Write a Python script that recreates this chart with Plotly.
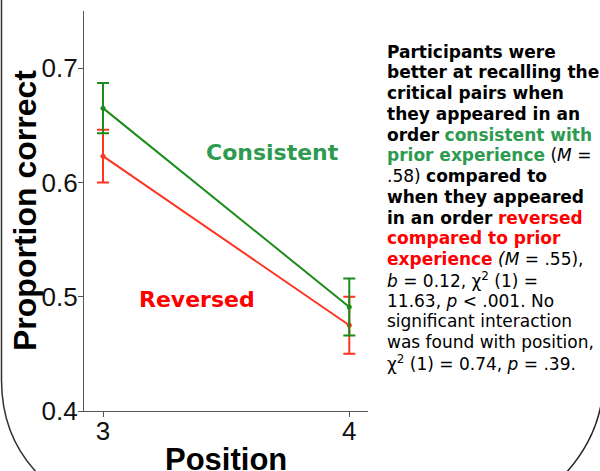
import plotly.graph_objects as go

# ---- data ----
positions = [3, 4]
consistent_mean = [0.665, 0.491]
consistent_err = [0.022, 0.025]
reversed_mean = [0.623, 0.475]
reversed_err = [0.023, 0.025]
y_ticks = [0.4, 0.5, 0.6, 0.7]
y_tick_labels = ["0.4", "0.5", "0.6", "0.7"]
x_ticks = [3, 4]

GREEN_LINE = "#1a8c1a"
RED_LINE = "#ff3322"
GREEN_TXT = "#2e9a50"
RED_TXT = "#ff0000"

W, H = 600, 471
L, R, T, B = 84, 232, 11, 60
PW, PH = W - L - R, H - T - B


def px(x):
    return (x - L) / PW


def py(y):
    return (H - B - y) / PH


fig = go.Figure()
fig.add_trace(go.Scatter(
    x=positions, y=reversed_mean, mode="lines+markers",
    line=dict(color=RED_LINE, width=2), marker=dict(size=5, color=RED_LINE),
    error_y=dict(type="data", array=reversed_err, color=RED_LINE, thickness=2, width=6),
    showlegend=False))
fig.add_trace(go.Scatter(
    x=positions, y=consistent_mean, mode="lines+markers",
    line=dict(color=GREEN_LINE, width=2), marker=dict(size=5, color=GREEN_LINE),
    error_y=dict(type="data", array=consistent_err, color=GREEN_LINE, thickness=2, width=6),
    showlegend=False))

ann = []
ann.append(dict(x=3.687, y=0.6266, xref="x", yref="y", text="<b>Consistent</b>",
                showarrow=False, font=dict(family="DejaVu Sans", size=22, color=GREEN_TXT)))
ann.append(dict(x=3.382, y=0.498, xref="x", yref="y", text="<b>Reversed</b>",
                showarrow=False, font=dict(family="DejaVu Sans", size=22, color=RED_TXT)))
# axis titles
ann.append(dict(x=px(25), y=py(211), xref="paper", yref="paper", text="<b>Proportion correct</b>",
                textangle=-90, showarrow=False, xanchor="center", yanchor="middle",
                font=dict(family="Liberation Sans", size=32, color="black")))
ann.append(dict(x=px(226), y=py(440), xref="paper", yref="paper", text="<b>Position</b>",
                xanchor="center", yanchor="top", showarrow=False,
                font=dict(family="Liberation Sans", size=31, color="black")))

g = lambda s: f"<span style='color:{GREEN_TXT}'><b>{s}</b></span>"
r = lambda s: f"<span style='color:{RED_TXT}'><b>{s}</b></span>"
lines = [
    "<b>Participants were</b>",
    "<b>better at recalling the</b>",
    "<b>critical pairs when</b>",
    "<b>they appeared in an</b>",
    "<b>order</b> " + g("consistent with"),
    g("prior experience") + " (<i>M</i> =",
    ".58) <b>compared to</b>",
    "<b>when they appeared</b>",
    "<b>in an order</b> " + r("reversed"),
    r("compared to prior"),
    r("experience") + " <i>(M</i> = .55),",
    "<i>b</i> = 0.12, χ<sup>2</sup> (1) =",
    "11.63, <i>p</i> &lt; .001. No",
    "significant interaction",
    "was found with position,",
    "χ<sup>2</sup> (1) = 0.74, <i>p</i> = .39.",
]
for i, s in enumerate(lines):
    ann.append(dict(x=px(385), y=py(51.7 + i * 20.75), xref="paper", yref="paper",
                    xanchor="left", yanchor="middle", text=s, showarrow=False,
                    font=dict(family="DejaVu Sans", size=17, color="black")))

def pth(points):
    (x0, y0), (x1, y1), c1, c2, (x2, y2) = points
    return (f"M {px(x0)},{py(y0)} L {px(x1)},{py(y1)} "
            f"C {px(c1[0])},{py(c1[1])} {px(c2[0])},{py(c2[1])} {px(x2)},{py(y2)}")

shapes = [
    dict(type="path", xref="paper", yref="paper",
         path=pth([(1.5, -3), (1.5, 380), (1.5, 420), (15, 450), (38, 474)]),
         line=dict(color="#333333", width=1.5)),
    dict(type="path", xref="paper", yref="paper",
         path=pth([(602, 395), (601, 405), (596, 430), (585, 452), (565, 474)]),
         line=dict(color="#222222", width=1.5)),
]

fig.update_layout(
    width=W, height=H, margin=dict(l=L, r=R, t=T, b=B),
    paper_bgcolor="white", plot_bgcolor="white",
    annotations=ann, shapes=shapes,
    xaxis=dict(range=[2.9228, 4.076], tickvals=x_ticks, ticks="outside", ticklen=5,
               ticklabelstandoff=-8,
               tickcolor="#555555", showline=True, linecolor="#555555", linewidth=1.2,
               showgrid=False, zeroline=False,
               tickfont=dict(family="Liberation Sans", size=26, color="#111111")),
    yaxis=dict(range=[0.4, 0.75], tickvals=y_ticks, ticktext=y_tick_labels, ticks="outside",
               ticklen=5, ticklabelstandoff=-5,
               tickcolor="#555555", showline=True, linecolor="#555555", linewidth=1.2,
               showgrid=False, zeroline=False,
               tickfont=dict(family="Liberation Sans", size=26, color="#111111")),
)

fig.write_html("out.html", config={"displayModeBar": False},
               post_script="document.body.style.margin='0';document.body.style.overflow='hidden';")
